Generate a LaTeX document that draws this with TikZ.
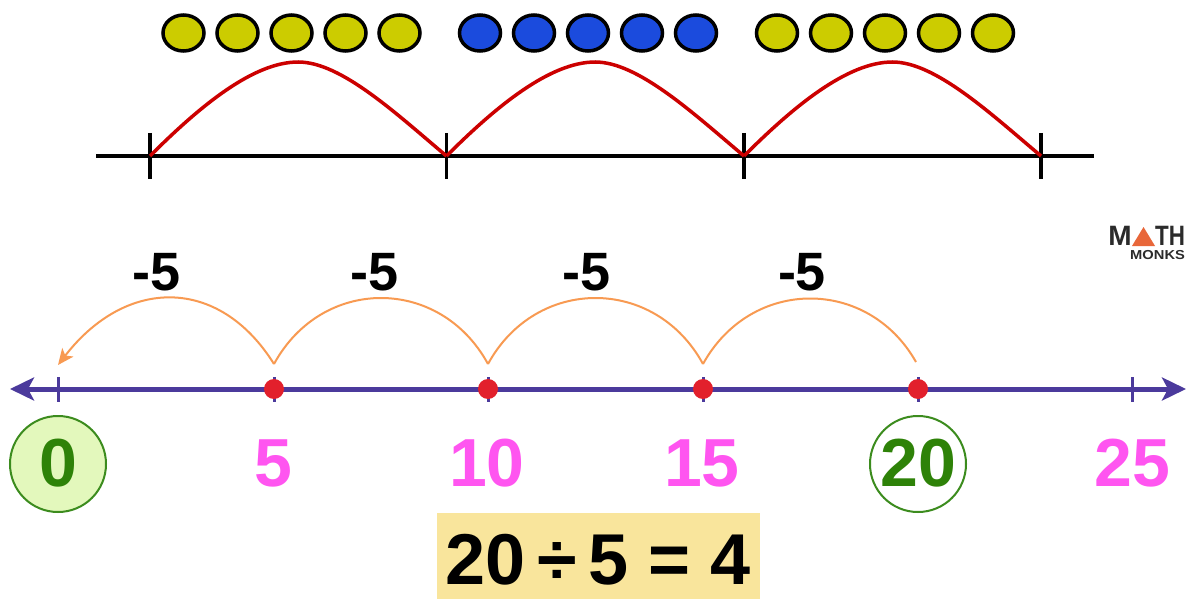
\documentclass[tikz,border=0pt]{standalone}
\usepackage{fontspec}
\setmainfont{Liberation Sans}
\usetikzlibrary{positioning,arrows.meta,calc,shapes.geometric}
\definecolor{dotYellow}{HTML}{CCCC00}
\definecolor{dotBlue}{HTML}{1B4BDD}
\definecolor{hopRed}{HTML}{CC0000}
\definecolor{linePurple}{HTML}{4B3A9C}
\definecolor{hopOrange}{HTML}{F89A52}
\definecolor{markRed}{HTML}{E2202C}
\definecolor{numPink}{HTML}{FF55F0}
\definecolor{numGreen}{HTML}{2E8208}
\definecolor{ringGreen}{HTML}{3C8C1E}
\definecolor{zeroFill}{HTML}{E3F8BC}
\definecolor{sumFill}{HTML}{F9E59C}
\definecolor{logoOrange}{HTML}{E8673A}
\definecolor{logoDark}{HTML}{2B2B2B}
\tikzset{
  counter/.style={ellipse,draw=black,line width=3.5pt,minimum width=41pt,minimum height=36pt,inner sep=0pt},
  hoplabel/.style={font=\fontsize{54}{54}\selectfont\bfseries},
  numlabel/.style={font=\fontsize{68}{68}\selectfont\bfseries},
  ring/.style={circle,draw=ringGreen,line width=2pt,minimum size=96pt,inner sep=0pt}
}
\begin{document}
\begin{tikzpicture}[x=1pt,y=-1pt,>=Stealth]
  \useasboundingbox (0,0) rectangle (1186,599);
  \fill[white] (0,0) rectangle (1186,599);
  % counters
  \foreach \i/\x in {1/183.5,2/237.5,3/291.5,4/345.5,5/399.5}
    \node[counter,fill=dotYellow] (ya\i) at (\x,33) {};
  \foreach \i/\x in {1/480,2/534,3/588,4/642,5/696}
    \node[counter,fill=dotBlue] (bl\i) at (\x,33) {};
  \foreach \i/\x in {1/777,2/831,3/885,4/939,5/993}
    \node[counter,fill=dotYellow] (yb\i) at (\x,33) {};
  % upper line
  \coordinate (ustart) at (96,156);
  \coordinate (uend) at (1094,156);
  \draw[line width=3.3pt] (ustart) -- (uend);
  \foreach \i/\x in {1/150,2/446.5,3/744,4/1041}{
    \coordinate (u\i) at (\x,156);
    \draw[line width=3.5pt] (\x,133) -- (\x,179);
  }
  \foreach \a/\b in {1/2,2/3,3/4}
    \draw[hopRed,line width=3.5pt,line join=round] (u\a) .. controls +(50,-50) and +(-45,0) .. ($(u\a)!0.5!(u\b)+(0,-94)$)
      .. controls +(43,0) and +(-50,-42) .. (u\b);
  % lower line
  \coordinate (lstart) at (10,389);
  \coordinate (lend) at (1186,389);
  \draw[linePurple,line width=5pt,{Stealth[length=24pt,width=23pt,inset=6pt]}-{Stealth[length=24pt,width=23pt,inset=6pt]}] (lstart) -- (lend);
  \foreach \i/\x in {0/58,5/274,10/488,15/703,20/918,25/1132}{
    \coordinate (t\i) at (\x,389);
    \draw[linePurple,line width=3pt] (\x,377) -- (\x,402);
  }
  \foreach \i in {5,10,15,20}
    \fill[markRed] (t\i) circle (10);
  % hops
  \coordinate (h0) at (58,365);
  \coordinate (h5) at (274,364);
  \coordinate (h10) at (488,364);
  \coordinate (h15) at (703,364);
  \coordinate (h20) at (916,362);
  \draw[hopOrange,line width=2pt] (h20) .. controls +(-48,-85) and +(48,-87) .. (h15);
  \draw[hopOrange,line width=2pt] (h15) .. controls +(-48,-88) and +(48,-88) .. (h10);
  \draw[hopOrange,line width=2pt] (h10) .. controls +(-48,-88) and +(48,-88) .. (h5);
  \draw[hopOrange,line width=2pt,-{Stealth[length=16pt,width=14pt,inset=4pt]}] (h5) .. controls +(-55,-88) and +(68,-88) .. (h0);
  \node[hoplabel] (m1) at (157,272) {-5};
  \node[hoplabel] (m2) at (375,272) {-5};
  \node[hoplabel] (m3) at (587,272) {-5};
  \node[hoplabel] (m4) at (802,272) {-5};
  % numbers
  \node[ring,fill=zeroFill] (c0) at (58,464) {};
  \node[ring] (c20) at (918,464) {};
  \node[numlabel,numGreen] (n0) at (58,463) {0};
  \node[numlabel,numPink] (n5) at (273,463) {5};
  \node[numlabel,numPink] (n10) at (487,463) {10};
  \node[numlabel,numPink] (n15) at (702,463) {15};
  \node[numlabel,numGreen] (n20) at (918,463) {20};
  \node[numlabel,numPink] (n25) at (1132,463) {25};
  % sum
  \fill[sumFill] (437,513) rectangle (760,599);
  \node[font=\fontsize{72}{72}\selectfont\bfseries] (sum) at (598,560) {20\,÷\,5 = 4};
  % logo
  \node[font=\fontsize{28}{28}\selectfont\bfseries,logoDark,anchor=east,inner sep=0pt] (logoM) at (1132,235.5) {M};
  \fill[logoOrange] (1143.5,227) -- (1155,246) -- (1132,246) -- cycle;
  \node[font=\fontsize{28}{28}\selectfont\bfseries,logoDark,anchor=west,inner sep=0pt,xscale=0.8] (logoT) at (1155,235.5) {TH};
  \node[font=\fontsize{13}{13}\selectfont\bfseries,logoDark,anchor=west,inner sep=0pt,xscale=1.13] (logoB) at (1130,255.5) {MONKS};
\end{tikzpicture}
\end{document}
